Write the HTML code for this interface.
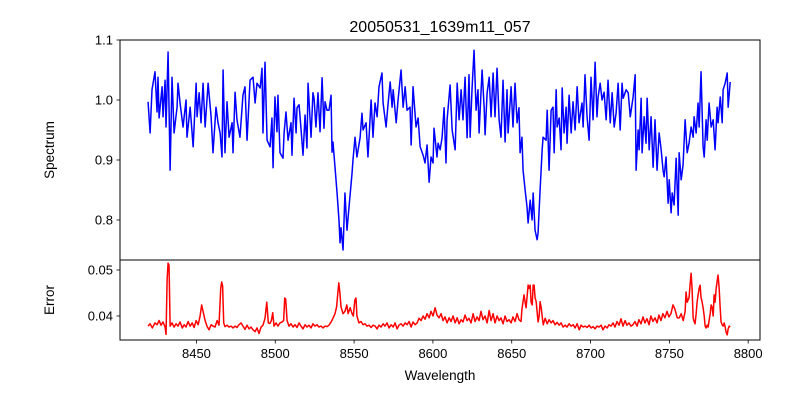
<!DOCTYPE html>
<html><head><meta charset="utf-8">
<style>
html,body{margin:0;padding:0;background:#fff;}
svg{display:block;font-family:"Liberation Sans","DejaVu Sans",sans-serif;}
</style></head>
<body>
<svg id="chart" width="800" height="400" viewBox="0 0 800 400" xmlns="http://www.w3.org/2000/svg">
<rect width="800" height="400" fill="#fff"/>
<text x="440" y="32" font-size="16" text-anchor="middle">20050531_1639m11_057</text>
<g id="topPanel"></g>
<g id="botPanel"></g>
<text transform="translate(54,150) rotate(-90)" font-size="13.5" text-anchor="middle">Spectrum</text>
<text transform="translate(54,300) rotate(-90)" font-size="13.5" text-anchor="middle">Error</text>
<text x="440" y="380" font-size="13.5" text-anchor="middle">Wavelength</text>
</svg>
<script>
const specWave=[8419.3,8420.6,8421.8,8423.7,8425.0,8425.6,8426.3,8428.2,8428.8,8430.1,8430.7,8432.0,8433.3,8434.5,8435.8,8437.7,8438.3,8439.6,8441.5,8442.2,8443.4,8444.0,8446.0,8447.9,8449.8,8450.4,8451.7,8452.9,8454.2,8455.5,8457.4,8459.3,8460.5,8462.4,8463.7,8465.0,8466.2,8466.9,8468.1,8469.4,8470.7,8472.6,8473.2,8474.5,8475.7,8477.6,8479.5,8480.8,8482.1,8484.0,8485.9,8487.2,8488.4,8490.4,8491.6,8492.2,8493.5,8494.8,8496.7,8497.9,8498.6,8499.8,8501.1,8501.7,8503.0,8504.9,8505.6,8506.8,8508.1,8510.0,8510.6,8511.9,8513.2,8513.8,8515.1,8516.3,8517.6,8518.9,8520.1,8520.8,8522.7,8523.9,8524.6,8525.8,8527.1,8528.4,8529.7,8530.9,8531.6,8532.8,8534.1,8535.4,8536.0,8536.6,8537.9,8539.2,8540.4,8541.1,8541.7,8543.0,8544.2,8545.5,8546.8,8548.7,8549.3,8550.6,8551.8,8553.8,8555.0,8555.7,8557.6,8558.8,8560.8,8562.0,8563.3,8564.6,8565.8,8567.7,8568.4,8570.3,8571.6,8572.9,8574.1,8574.8,8576.7,8577.9,8579.8,8581.1,8582.4,8583.6,8585.5,8586.2,8587.4,8589.3,8590.6,8591.9,8593.8,8595.0,8596.3,8597.6,8598.8,8600.1,8600.7,8602.6,8603.3,8604.6,8605.8,8607.1,8608.3,8609.0,8610.9,8612.2,8614.1,8615.4,8616.6,8617.9,8619.1,8620.4,8621.7,8622.9,8623.6,8624.8,8626.1,8627.4,8628.6,8629.3,8631.2,8632.5,8633.1,8634.4,8635.7,8636.9,8638.2,8639.4,8640.7,8642.0,8643.2,8644.5,8645.8,8647.0,8647.7,8649.6,8650.8,8652.1,8653.4,8654.6,8655.3,8656.5,8657.2,8658.5,8659.7,8660.4,8661.7,8662.9,8663.6,8664.8,8666.1,8666.7,8668.0,8669.3,8669.9,8671.8,8672.5,8673.7,8675.0,8676.2,8676.9,8678.2,8678.8,8680.1,8681.3,8682.0,8683.2,8684.5,8685.1,8686.4,8687.7,8688.9,8690.2,8691.5,8692.7,8694.6,8695.3,8696.5,8697.8,8699.1,8700.3,8701.6,8702.9,8704.1,8704.8,8706.1,8707.3,8708.6,8709.9,8711.1,8712.5,8713.7,8715.0,8716.2,8717.5,8718.8,8720.0,8720.7,8722.6,8723.9,8725.2,8727.0,8728.3,8728.9,8730.2,8730.8,8732.1,8732.7,8734.0,8735.2,8735.9,8737.2,8738.4,8739.7,8740.9,8742.2,8743.5,8744.8,8746.0,8746.7,8747.9,8749.2,8749.9,8751.1,8751.8,8753.0,8754.3,8755.6,8756.2,8757.5,8758.7,8760.0,8761.3,8762.5,8763.8,8765.1,8765.7,8767.0,8768.2,8768.9,8770.1,8771.4,8772.1,8773.3,8774.0,8775.2,8776.5,8777.8,8779.0,8780.3,8780.9,8782.3,8783.5,8784.1,8785.4,8786.7,8787.3,8788.6];
const specFlux=[0.997,0.945,1.017,1.047,0.980,1.038,0.970,1.022,0.972,1.033,0.955,1.080,0.883,1.038,0.945,0.988,1.028,0.995,0.955,0.972,1.000,0.938,0.988,0.922,1.028,0.972,1.012,0.962,1.028,0.955,1.028,0.972,0.912,0.988,0.962,0.945,0.905,1.050,0.912,0.997,0.938,0.962,0.912,1.013,0.967,0.938,1.008,1.022,0.933,1.033,1.038,0.995,1.028,1.020,1.053,0.945,1.063,0.933,0.922,0.970,0.887,1.005,0.947,1.008,0.912,0.903,0.945,0.980,0.933,0.962,0.908,1.003,0.945,0.987,0.992,0.953,0.908,0.975,0.920,1.028,0.938,1.012,1.003,0.955,1.012,0.947,1.037,0.953,0.997,0.983,0.983,1.008,0.913,0.930,0.888,0.845,0.800,0.762,0.787,0.750,0.845,0.783,0.822,0.878,0.900,0.938,0.905,0.937,0.978,0.950,0.962,0.905,1.000,0.938,0.995,0.972,1.022,1.045,0.995,0.955,0.995,1.030,0.988,1.017,0.962,1.000,1.050,0.988,1.022,0.983,0.988,0.925,1.022,0.955,0.970,0.922,0.908,0.895,0.925,0.863,0.905,0.895,0.953,0.905,0.928,0.917,0.937,0.987,0.895,0.967,1.025,0.950,0.917,1.028,0.967,1.017,0.967,1.038,0.937,1.042,0.938,1.017,1.083,0.983,1.017,0.945,1.050,0.988,0.942,1.012,1.038,0.972,1.045,0.972,1.053,0.967,0.938,1.033,0.930,1.017,0.945,1.022,0.955,1.028,0.962,0.987,0.912,0.938,0.883,0.850,0.822,0.795,0.833,0.800,0.845,0.783,0.767,0.778,0.850,0.917,0.938,0.933,0.983,0.883,0.983,0.988,0.912,1.017,0.955,0.970,0.917,1.020,0.945,0.988,0.928,1.008,0.945,0.997,0.950,1.022,0.962,0.995,0.955,1.042,0.972,0.933,1.038,0.967,1.063,0.972,1.005,1.028,1.000,1.013,0.967,1.033,0.962,1.012,0.955,0.978,1.028,0.950,1.028,1.003,1.017,1.012,0.972,1.005,1.042,0.883,0.950,0.917,1.003,0.912,0.972,0.928,1.003,0.917,0.972,0.888,0.967,0.883,0.945,0.917,0.883,0.872,0.905,0.828,0.867,0.812,0.845,0.825,0.903,0.808,0.912,0.867,0.892,0.967,0.912,0.928,0.955,0.938,0.972,0.945,0.995,0.955,1.047,0.922,0.905,0.967,0.933,0.995,0.955,0.967,0.917,0.988,0.962,1.005,0.962,1.017,1.028,1.045,0.988,1.030];
const errWave=[8419.3,8420.6,8422.0,8423.7,8425.0,8426.3,8427.5,8428.8,8430.1,8430.7,8431.4,8432.0,8432.6,8433.3,8434.5,8435.8,8437.1,8438.3,8439.6,8441.0,8442.2,8443.4,8444.7,8446.0,8447.3,8448.5,8449.8,8451.1,8452.3,8453.3,8454.2,8455.5,8456.8,8458.0,8459.3,8460.5,8461.8,8463.1,8464.3,8465.4,8466.0,8466.6,8467.3,8468.1,8469.4,8470.7,8472.0,8473.2,8474.5,8475.7,8477.0,8478.3,8479.5,8480.8,8482.1,8483.4,8484.6,8485.9,8487.2,8488.4,8489.7,8491.0,8492.2,8493.5,8494.6,8495.6,8496.7,8497.5,8498.4,8499.2,8500.5,8501.7,8503.0,8504.3,8505.3,8506.0,8506.6,8507.5,8508.7,8510.0,8511.3,8512.5,8513.8,8515.1,8516.3,8517.6,8518.9,8520.1,8521.4,8522.7,8523.9,8525.2,8526.5,8527.7,8529.0,8530.3,8531.6,8532.8,8534.1,8535.4,8536.6,8537.9,8538.9,8539.7,8540.3,8541.0,8541.7,8543.0,8544.2,8545.4,8546.2,8547.5,8548.7,8549.5,8550.5,8551.2,8551.8,8553.1,8554.4,8555.7,8556.9,8558.2,8559.5,8560.8,8562.0,8563.3,8564.6,8565.8,8567.1,8568.4,8569.6,8570.9,8572.2,8573.5,8574.8,8576.0,8577.3,8578.5,8579.8,8581.1,8582.4,8583.6,8584.9,8586.2,8587.4,8588.7,8590.0,8591.2,8592.5,8593.8,8595.0,8596.3,8597.6,8598.8,8600.1,8601.4,8602.6,8603.9,8605.2,8606.4,8607.7,8609.0,8610.3,8611.5,8612.8,8614.1,8615.4,8616.6,8617.9,8619.1,8620.4,8621.7,8622.9,8624.2,8625.5,8626.7,8628.0,8629.3,8630.5,8631.8,8633.1,8634.4,8635.7,8636.9,8638.2,8639.4,8640.7,8642.0,8643.2,8644.5,8645.8,8647.0,8648.3,8649.6,8650.8,8652.1,8653.4,8654.6,8655.9,8656.5,8657.8,8658.5,8659.1,8659.7,8660.4,8661.0,8661.7,8662.3,8663.0,8663.6,8664.2,8664.8,8665.5,8666.1,8666.7,8667.4,8668.0,8668.7,8669.3,8670.0,8671.2,8672.5,8673.7,8675.0,8676.2,8677.5,8678.8,8680.1,8681.3,8682.6,8683.9,8685.1,8686.4,8687.7,8689.0,8690.2,8691.5,8692.8,8694.0,8695.3,8696.6,8697.8,8699.1,8700.3,8701.6,8702.9,8704.1,8705.4,8706.7,8707.9,8709.2,8710.5,8711.7,8713.0,8714.3,8715.5,8716.8,8718.1,8719.3,8720.6,8721.9,8723.1,8724.4,8725.7,8726.9,8728.2,8729.5,8730.7,8732.0,8733.3,8734.5,8735.8,8737.1,8738.3,8739.6,8740.9,8742.2,8743.4,8744.7,8745.9,8747.2,8748.5,8749.7,8751.0,8752.3,8753.5,8755.0,8756.3,8757.5,8758.8,8760.0,8760.6,8761.3,8762.5,8763.2,8763.8,8764.4,8765.1,8765.7,8766.3,8767.0,8767.6,8768.2,8768.9,8769.5,8770.1,8770.8,8771.4,8772.1,8772.7,8773.3,8774.0,8774.6,8775.2,8775.9,8776.5,8777.2,8777.8,8778.4,8779.0,8779.7,8780.3,8780.9,8781.6,8782.2,8782.8,8783.5,8784.1,8784.8,8785.4,8786.0,8786.7,8787.3,8788.0,8788.6];
const errVal=[0.0378,0.0383,0.0374,0.0385,0.0381,0.0390,0.0380,0.0387,0.0376,0.0360,0.0480,0.0515,0.0510,0.0378,0.0385,0.0376,0.0383,0.0378,0.0387,0.0374,0.0381,0.0376,0.0388,0.0378,0.0385,0.0375,0.0390,0.0381,0.0400,0.0424,0.0410,0.0390,0.0377,0.0370,0.0381,0.0378,0.0376,0.0390,0.0380,0.0460,0.0474,0.0465,0.0385,0.0377,0.0380,0.0376,0.0378,0.0374,0.0378,0.0375,0.0381,0.0385,0.0378,0.0371,0.0380,0.0372,0.0376,0.0370,0.0366,0.0374,0.0362,0.0376,0.0380,0.0395,0.0430,0.0385,0.0384,0.0390,0.0407,0.0378,0.0385,0.0378,0.0385,0.0387,0.0390,0.0439,0.0437,0.0390,0.0378,0.0383,0.0376,0.0381,0.0375,0.0385,0.0378,0.0372,0.0381,0.0376,0.0380,0.0374,0.0383,0.0378,0.0381,0.0376,0.0378,0.0374,0.0378,0.0377,0.0380,0.0387,0.0395,0.0405,0.0420,0.0450,0.0472,0.0450,0.0420,0.0405,0.0410,0.0424,0.0405,0.0418,0.0405,0.0400,0.0435,0.0439,0.0400,0.0385,0.0388,0.0381,0.0383,0.0378,0.0380,0.0375,0.0380,0.0378,0.0372,0.0380,0.0376,0.0383,0.0378,0.0385,0.0374,0.0381,0.0376,0.0385,0.0372,0.0380,0.0383,0.0378,0.0385,0.0381,0.0388,0.0376,0.0387,0.0381,0.0385,0.0395,0.0390,0.0400,0.0393,0.0405,0.0396,0.0410,0.0400,0.0418,0.0402,0.0396,0.0405,0.0390,0.0398,0.0385,0.0396,0.0388,0.0400,0.0385,0.0396,0.0383,0.0392,0.0387,0.0402,0.0390,0.0395,0.0385,0.0405,0.0388,0.0398,0.0390,0.0410,0.0392,0.0400,0.0385,0.0412,0.0390,0.0405,0.0385,0.0400,0.0390,0.0396,0.0383,0.0400,0.0388,0.0392,0.0385,0.0398,0.0388,0.0405,0.0392,0.0388,0.0415,0.0446,0.0430,0.0418,0.0440,0.0467,0.0460,0.0467,0.0430,0.0424,0.0467,0.0467,0.0440,0.0431,0.0410,0.0387,0.0400,0.0431,0.0418,0.0400,0.0381,0.0395,0.0383,0.0392,0.0385,0.0390,0.0381,0.0386,0.0380,0.0385,0.0376,0.0380,0.0376,0.0383,0.0378,0.0381,0.0374,0.0383,0.0370,0.0380,0.0376,0.0378,0.0375,0.0380,0.0374,0.0377,0.0372,0.0378,0.0376,0.0380,0.0370,0.0378,0.0374,0.0381,0.0378,0.0385,0.0376,0.0388,0.0380,0.0394,0.0378,0.0390,0.0380,0.0385,0.0378,0.0381,0.0388,0.0378,0.0392,0.0383,0.0398,0.0385,0.0394,0.0381,0.0400,0.0388,0.0396,0.0385,0.0402,0.0390,0.0405,0.0396,0.0410,0.0398,0.0405,0.0424,0.0415,0.0396,0.0396,0.0405,0.0390,0.0410,0.0452,0.0430,0.0440,0.0470,0.0493,0.0460,0.0396,0.0388,0.0383,0.0405,0.0430,0.0445,0.0460,0.0467,0.0440,0.0430,0.0418,0.0400,0.0378,0.0374,0.0380,0.0376,0.0390,0.0405,0.0424,0.0418,0.0400,0.0446,0.0430,0.0460,0.0475,0.0489,0.0460,0.0420,0.0387,0.0381,0.0378,0.0385,0.0376,0.0365,0.0359,0.0372,0.0378,0.0376,0.0381];
const xTicks=[8450,8500,8550,8600,8650,8700,8750,8800];
const specTicks=[0.8,0.9,1.0,1.1];
const specTickLabels=["0.8","0.9","1.0","1.1"];
const errTicks=[0.04,0.05];
const errTickLabels=["0.04","0.05"];

const NS="http://www.w3.org/2000/svg";
const L=120,R=760,T1=40,B1=260,T2=260,B2=340;
const xMin=8401.5,xMax=8807.5;
const y1Min=0.7333,y1Max=1.1;
const y2Min=0.03478,y2Max=0.05217;
const X=w=>L+(w-xMin)/(xMax-xMin)*(R-L);
const Y1=v=>B1-(v-y1Min)/(y1Max-y1Min)*(B1-T1);
const Y2=v=>B2-(v-y2Min)/(y2Max-y2Min)*(B2-T2);
function mk(tag,attrs,parent){const e=document.createElementNS(NS,tag);for(const k in attrs)e.setAttribute(k,attrs[k]);parent.appendChild(e);return e;}
const topG=document.getElementById('topPanel'),botG=document.getElementById('botPanel');

function linePath(xs,ys,fy){
  const n=Math.min(xs.length,ys.length);let s='';
  for(let i=0;i<n;i++){s+=(i?'L':'M')+X(xs[i]).toFixed(2)+','+fy(ys[i]).toFixed(2);}
  return s;
}
const sp=mk('path',{d:linePath(specWave,specFlux,Y1),fill:'none',stroke:'#0000ff','stroke-width':1.5,'stroke-linejoin':'round'},topG);


const ep=mk('path',{d:linePath(errWave,errVal,Y2),fill:'none',stroke:'#ff0000','stroke-width':1.5,'stroke-linejoin':'round'},botG);



const f1=mk('rect',{x:L,y:T1,width:R-L,height:B1-T1,fill:'none',stroke:'#000','stroke-width':1},topG);


const f2=mk('rect',{x:L,y:T2,width:R-L,height:B2-T2,fill:'none',stroke:'#000','stroke-width':1},botG);



specTicks.forEach((v,i)=>{const y=Y1(v);
 const t=mk('line',{x1:L-3.5,x2:L,y1:y,y2:y,stroke:'#000','stroke-width':0.8},topG);
 
 
 const tx=mk('text',{x:L-7,y:y+4.5,'font-size':13,'text-anchor':'end'},topG);tx.textContent=specTickLabels[i];
 
 });
errTicks.forEach((v,i)=>{const y=Y2(v);
 const t=mk('line',{x1:L-3.5,x2:L,y1:y,y2:y,stroke:'#000','stroke-width':0.8},botG);
 
 
 const tx=mk('text',{x:L-7,y:y+4.5,'font-size':13,'text-anchor':'end'},botG);tx.textContent=errTickLabels[i];
 
 });
xTicks.forEach(w=>{const x=X(w);
 const t=mk('line',{x1:x,x2:x,y1:B2,y2:B2+3.5,stroke:'#000','stroke-width':0.8},botG);
 
 
 const tx=mk('text',{x:x,y:B2+18,'font-size':13,'text-anchor':'middle'},botG);tx.textContent=String(w);
 
 });
</script>
</body></html>
